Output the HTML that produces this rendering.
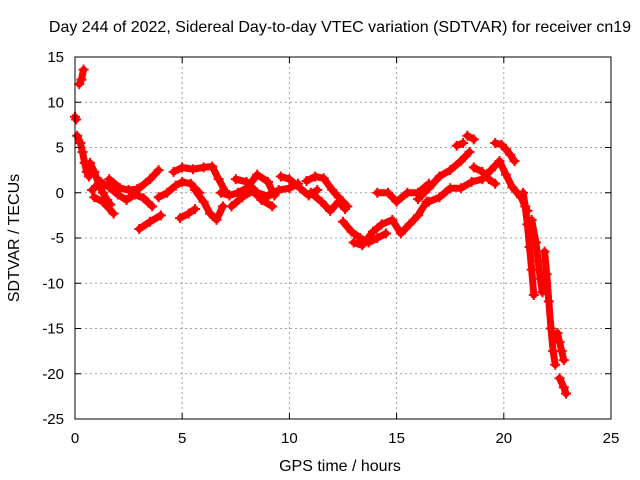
<!DOCTYPE html>
<html><head><meta charset="utf-8"><style>
body{margin:0;background:#fff;}
svg{display:block;font-family:"Liberation Sans",sans-serif;}
</style></head><body>
<svg id="chart" width="640" height="480" viewBox="0 0 640 480">
<rect width="640" height="480" fill="#fff"/>
<text x="340" y="32" font-size="16" text-anchor="middle">Day 244 of 2022, Sidereal Day-to-day VTEC variation (SDTVAR) for receiver cn19</text>
<g id="grid"></g>
<g id="series"></g>
<g id="axes"></g>
<text x="340" y="471" font-size="16" text-anchor="middle">GPS time / hours</text>
<text transform="translate(19,238) rotate(-90)" font-size="16" text-anchor="middle">SDTVAR / TECUs</text>
</svg>
<script>
const xTicks=[0,5,10,15,20,25];
const yTicks=[15,10,5,0,-5,-10,-15,-20,-25];
const track1=[[0.2,12],[0.3,12.5],[0.4,13.6]];
const track2=[[0,8.4],[0.05,8.1]];
const track3=[[0.1,6.3],[0.25,5.5],[0.35,4.5],[0.45,3.3],[0.55,2.3],[0.65,1.8]];
const track4=[[0.7,3.3],[0.9,2.3],[1.1,1],[1.3,0],[1.5,-0.8],[1.65,-1.3]];
const track5=[[0.8,0.3],[1.2,1.2],[1.6,0.6],[2,-0.2],[2.4,-0.8],[2.8,-0.2],[3.2,-0.6],[3.6,-1.5]];
const track6=[[0.9,-0.5],[1.3,-1],[1.8,-2.3]];
const track7=[[1.6,1.5],[2.1,0.5],[2.5,0.3],[2.9,0.4]];
const track8=[[3,-4],[3.5,-3.2],[4,-2.5]];
const track9=[[3,0.5],[3.5,1.5],[3.9,2.5]];
const track10=[[3.9,-0.5],[4.3,0],[4.7,0.8],[5,1.2],[5.4,1],[5.8,0]];
const track11=[[4.6,2.3],[5,2.8],[5.5,2.6],[6,2.8],[6.4,2.9],[6.7,1.5],[7,0.2]];
const track12=[[4.9,-2.8],[5.3,-2.3],[5.6,-1.8]];
const track13=[[5.6,0.3],[6,-1],[6.3,-2.3],[6.6,-3],[6.9,-1.5]];
const track14=[[6.8,0],[7.2,-0.3],[7.6,0],[8,0.5],[8.5,2],[9,1.2],[9.3,-0.3]];
const track15=[[7.3,-1.5],[7.8,-0.5],[8.3,0.2],[8.7,-0.8],[9.2,-1.5]];
const track16=[[7.5,1.5],[8,1.2],[8.5,0],[9,-0.4],[9.5,0.3],[10,0.5],[10.4,1]];
const track17=[[9.6,1.8],[10,1.5],[10.5,0.5],[10.9,-0.3],[11.3,0.3]];
const track18=[[10.8,1.3],[11.2,1.8],[11.6,1.6],[12,0.3],[12.3,-0.5],[12.7,-1.5]];
const track19=[[11,0],[11.5,-1],[11.9,-2],[12.3,-1],[12.6,-1.8]];
const track20=[[12.5,-3.2],[12.9,-4.3],[13.3,-5],[13.7,-5.5],[14.1,-5],[14.5,-4.5]];
const track21=[[13,-5.5],[13.4,-5.8],[13.9,-4.3],[14.3,-3.5],[14.8,-3],[15.2,-4.5],[15.6,-3.5],[16,-2.5],[16.4,-1]];
const track22=[[14.1,0],[14.6,0],[15,-1],[15.5,0],[16,0],[16.5,1]];
const track23=[[16,-0.7],[16.5,0.5],[17,1.8],[17.5,2.5],[18,3.5],[18.4,4.5]];
const track24=[[16.5,-1],[17,-0.5],[17.5,0.5],[18,0.5],[18.5,1.2],[19,1.5],[19.4,2.5],[19.8,3.5]];
const track25=[[17.8,5.2],[18.1,5.5]];
const track26=[[18.3,6.3],[18.6,5.9]];
const track27=[[18.6,2.8],[19,2.3],[19.3,1.5],[19.6,1]];
const track28=[[19.6,5.5],[19.9,5.3],[20.1,4.8],[20.3,4.2],[20.5,3.5]];
const track29=[[19.8,3.5],[20.1,2],[20.4,0.6],[20.8,-0.5],[21.1,-2]];
const track30=[[20.9,0],[21,-1.5],[21.1,-3.5],[21.2,-6],[21.3,-8.5],[21.4,-11.3]];
const track31=[[21.3,-3],[21.5,-5.5],[21.6,-7.5],[21.7,-9.5],[21.8,-11]];
const track32=[[21.9,-6.5],[22,-9],[22.1,-12],[22.2,-15],[22.3,-17.5],[22.4,-19]];
const track33=[[22.5,-15.5],[22.6,-16.5],[22.7,-17.5],[22.8,-18.5]];
const track34=[[22.6,-20.5],[22.8,-21.5],[22.9,-22.2]];
const tracks=[track1,track2,track3,track4,track5,track6,track7,track8,track9,track10,track11,track12,track13,track14,track15,track16,track17,track18,track19,track20,track21,track22,track23,track24,track25,track26,track27,track28,track29,track30,track31,track32,track33,track34];

const L=75,R=611,T=57,B=419,xmin=0,xmax=25,ymin=-25,ymax=15;
const sx=v=>L+(v-xmin)/(xmax-xmin)*(R-L);
const sy=v=>B-(v-ymin)/(ymax-ymin)*(B-T);
const NS="http://www.w3.org/2000/svg";
function mk(tag,attrs,parent){const e=document.createElementNS(NS,tag);for(const k in attrs)e.setAttribute(k,attrs[k]);parent.appendChild(e);return e;}
const grid=document.getElementById('grid'),axes=document.getElementById('axes'),ser=document.getElementById('series');
xTicks.forEach(t=>{
  if(t>xmin&&t<xmax){const g=mk('line',{x1:sx(t),x2:sx(t),y1:T,y2:B,stroke:'#a0a0a0','stroke-dasharray':'2,3'},grid);
  
  }
  const lb=mk('text',{x:sx(t),y:B+24,'font-size':15,'text-anchor':'middle'},axes);lb.textContent=t;
  
  
  mk('line',{x1:sx(t),x2:sx(t),y1:B,y2:B-6,stroke:'#000'},axes);
  mk('line',{x1:sx(t),x2:sx(t),y1:T,y2:T+6,stroke:'#000'},axes);
});
yTicks.forEach(t=>{
  if(t>ymin&&t<ymax){const g=mk('line',{x1:L,x2:R,y1:sy(t),y2:sy(t),stroke:'#a0a0a0','stroke-dasharray':'2,3'},grid);
  
  }
  const lb=mk('text',{x:L-11,y:sy(t)+5,'font-size':15,'text-anchor':'end'},axes);lb.textContent=t;
  
  
  mk('line',{x1:L,x2:L+6,y1:sy(t),y2:sy(t),stroke:'#000'},axes);
  mk('line',{x1:R,x2:R-6,y1:sy(t),y2:sy(t),stroke:'#000'},axes);
});
const fr=mk('rect',{x:L,y:T,width:R-L,height:B-T,fill:'none',stroke:'#000'},axes);


tracks.forEach(tr=>{
  const pl=mk('polyline',{points:tr.map(p=>sx(p[0])+','+sy(p[1])).join(' '),fill:'none',stroke:'#ff0000','stroke-width':7,'stroke-linecap':'round','stroke-linejoin':'round'},ser);
  
  
  tr.forEach(p=>{
    const x=sx(p[0]),y=sy(p[1]);
    const m=mk('path',{d:`M${x-5},${y}h10M${x},${y-5}v10`,stroke:'#ff0000','stroke-width':2},ser);
    
    
  });
});
</script>
</body></html>
